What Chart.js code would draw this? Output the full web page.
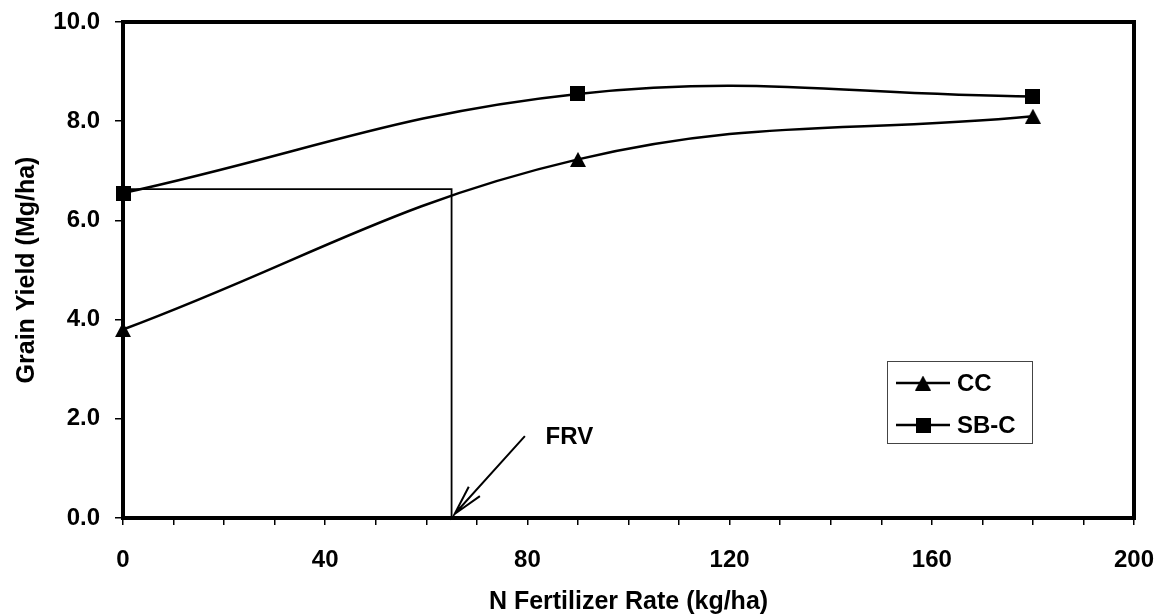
<!DOCTYPE html>
<html>
<head>
<meta charset="utf-8">
<script src="https://cdn.jsdelivr.net/npm/chart.js@4.4.1/dist/chart.umd.min.js"></script>
<style>
  html, body { margin: 0; padding: 0; background: #fff; }
  #wrap { width: 1160px; height: 615px; }
</style>
</head>
<body>
<div id="wrap"><canvas id="c" width="1160" height="615"></canvas></div>
<script>
// ---- data ----
const nRates = [0, 90, 180];
const ccYield = [3.8, 7.23, 8.1];
const sbcYield = [6.55, 8.55, 8.5];
const seriesNames = ['CC', 'SB-C'];
const xTickLabels = [0, 40, 80, 120, 160, 200];
const yTickLabels = ['0.0', '2.0', '4.0', '6.0', '8.0', '10.0'];
// FRV guide (horizontal + vertical line) and arrow, in data units
const frvGuideX = [0, 65, 65];
const frvGuideY = [6.63, 6.63, 0];
const arrowX = [79.5, 65.6, 68.4, null, 65.6, 70.6];
const arrowY = [1.65, 0.08, 0.63, null, 0.08, 0.44];
const frvLabel = 'FRV';
const frvLabelAt = [83.6, 1.62];

const FONT = '"Liberation Sans", Arial, Helvetica, sans-serif';

function makeTriangle(w, h) {
  const c = document.createElement('canvas');
  c.width = w; c.height = h;
  const g = c.getContext('2d');
  g.fillStyle = '#000';
  g.beginPath(); g.moveTo(w / 2, 0); g.lineTo(w, h); g.lineTo(0, h); g.closePath(); g.fill();
  return c;
}
function makeSquare(s) {
  const c = document.createElement('canvas');
  c.width = s; c.height = s;
  const g = c.getContext('2d');
  g.fillStyle = '#000'; g.fillRect(0, 0, s, s);
  return c;
}
const triImg = makeTriangle(16, 15);
const sqImg = makeSquare(15);

function pts(xs, ys) { return xs.map((x, i) => ({ x: x === null ? NaN : x, y: ys[i] })); }

const framePlugin = {
  id: 'frame',
  beforeDraw(chart) {
    const ctx = chart.ctx;
    ctx.save(); ctx.fillStyle = '#fff'; ctx.fillRect(0, 0, chart.width, chart.height); ctx.restore();
  },
  beforeDatasetsDraw(chart) {
    const { ctx, chartArea: a } = chart;
    ctx.save();
    ctx.strokeStyle = '#000';
    ctx.lineWidth = 4;
    ctx.strokeRect(a.left, a.top, a.right - a.left, a.bottom - a.top);
    ctx.restore();
  },
  afterDraw(chart) {
    const ctx = chart.ctx;
    const xs = chart.scales.x, ys = chart.scales.y;
    // FRV label
    ctx.save();
    ctx.fillStyle = '#000';
    ctx.font = 'bold 24px ' + FONT;
    ctx.textAlign = 'left'; ctx.textBaseline = 'middle';
    ctx.fillText(frvLabel, xs.getPixelForValue(frvLabelAt[0]), ys.getPixelForValue(frvLabelAt[1]));
    // legend box
    const bx = 887, by = 361, bw = 145, bh = 82;
    ctx.strokeStyle = '#444'; ctx.lineWidth = 1;
    ctx.strokeRect(bx + 0.5, by + 0.5, bw, bh);
    const rows = [383, 425];
    chart.data.datasets.slice(0, 2).forEach((ds, i) => {
      const y = rows[i];
      ctx.strokeStyle = '#000'; ctx.lineWidth = 2.5;
      ctx.beginPath(); ctx.moveTo(896, y); ctx.lineTo(950, y); ctx.stroke();
      const img = ds.pointStyle;
      ctx.drawImage(img, 923 - img.width / 2, y - img.height / 2);
      ctx.fillStyle = '#000';
      ctx.font = 'bold 24px ' + FONT;
      ctx.textAlign = 'left'; ctx.textBaseline = 'middle';
      ctx.fillText(ds.label, 957, y + 1);
    });
    ctx.restore();
  }
};

new Chart(document.getElementById('c'), {
  type: 'line',
  data: {
    datasets: [
      { label: seriesNames[0], data: pts(nRates, ccYield), borderColor: '#000', borderWidth: 2.5,
        pointStyle: triImg, pointRadius: 8, tension: 0.4, clip: false },
      { label: seriesNames[1], data: pts(nRates, sbcYield), borderColor: '#000', borderWidth: 2.5,
        pointStyle: sqImg, pointRadius: 8, tension: 0.4, clip: false },
      { label: 'FRV guide', data: pts(frvGuideX, frvGuideY), borderColor: '#000', borderWidth: 1.8,
        pointRadius: 0, tension: 0, clip: false },
      { label: 'FRV arrow', data: pts(arrowX, arrowY), borderColor: '#000', borderWidth: 2,
        pointRadius: 0, tension: 0, spanGaps: false, clip: false }
    ]
  },
  options: {
    responsive: false,
    animation: false,
    events: [],
    layout: { padding: { top: 22, right: 26, left: 0, bottom: 0 } },
    plugins: { legend: { display: false }, tooltip: { enabled: false } },
    scales: {
      x: {
        type: 'linear', min: 0, max: 200,
        afterFit(s) { s.height = 97; s.paddingLeft = 0; s.paddingRight = 0; },
        border: { display: false },
        grid: { drawOnChartArea: false, drawTicks: true, tickLength: 7, color: '#000', lineWidth: 1.5 },
        ticks: {
          stepSize: 10, autoSkip: false, maxRotation: 0, padding: 21, color: '#000',
          font: { family: FONT, size: 24, weight: 'bold' },
          callback: (v) => xTickLabels.includes(v) ? String(v) : ''
        },
        title: { display: true, text: 'N Fertilizer Rate (kg/ha)', color: '#000',
          font: { family: FONT, size: 25, weight: 'bold', lineHeight: 1 }, padding: { top: 0, bottom: 0 } }
      },
      y: {
        min: 0, max: 10,
        afterFit(s) { s.width = 123; s.paddingTop = 0; s.paddingBottom = 0; },
        border: { display: false },
        grid: { drawOnChartArea: false, drawTicks: true, tickLength: 8, color: '#000', lineWidth: 1.5 },
        ticks: {
          stepSize: 2, padding: 15, color: '#000',
          font: { family: FONT, size: 24, weight: 'bold' },
          callback: (v) => yTickLabels[Math.round(v / 2)]
        },
        title: { display: true, text: 'Grain Yield (Mg/ha)', color: '#000',
          font: { family: FONT, size: 25, weight: 'bold', lineHeight: 1 }, padding: { top: 15, bottom: 0 } }
      }
    }
  },
  plugins: [framePlugin]
});
</script>
</body>
</html>
